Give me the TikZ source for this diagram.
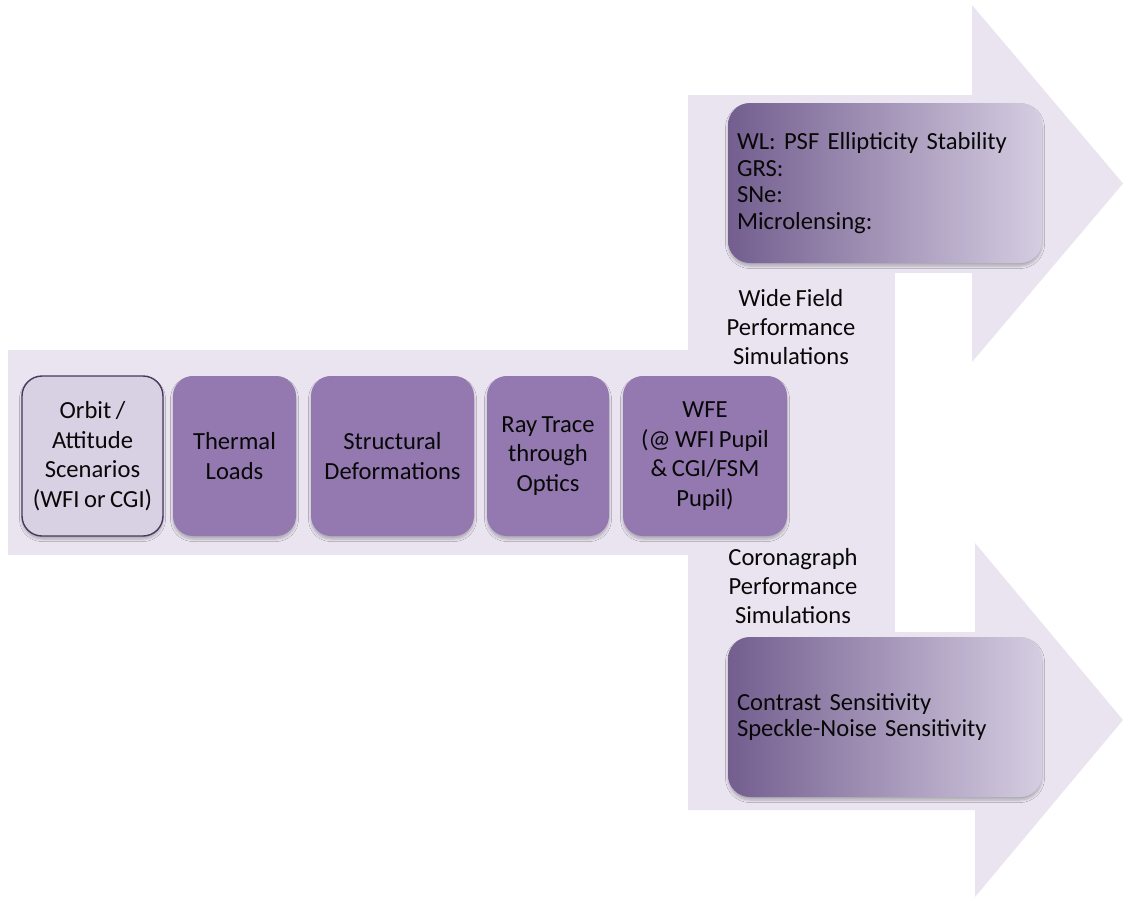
\documentclass[tikz,border=0pt]{standalone}
\usepackage{fontspec}
\setmainfont[WordSpace=0.8]{Carlito}
\usetikzlibrary{shadows.blur}

\definecolor{lav}{RGB}{233,228,240}
\definecolor{stagefill}{RGB}{147,121,175}
\definecolor{orbitfill}{RGB}{216,208,227}
\definecolor{orbitline}{RGB}{72,56,92}
\definecolor{gradL}{RGB}{115,94,143}
\definecolor{gradR}{RGB}{213,205,225}
\definecolor{ink}{RGB}{8,8,8}

\begin{document}
\begin{tikzpicture}[x=1pt,y=-1pt,
  softshadow/.style={blur shadow={shadow xshift=0pt, shadow yshift=-3pt,
      shadow opacity=25, shadow blur steps=6, shadow blur radius=2.5pt}},
  stage/.style={rounded corners=20pt, fill=stagefill, minimum width=#1,
      minimum height=160pt, inner sep=2pt, align=center, text=ink,
      font=\fontsize{24.6}{29.5}\selectfont, softshadow},
  result/.style={rounded corners=22pt, left color=gradL, right color=gradR,
      minimum height=160pt, text width=296pt, inner xsep=9pt, align=left,
      text=ink, font=\fontsize{24.6}{26.7}\selectfont, softshadow},
  caption/.style={align=center, text=ink, font=\fontsize{24.6}{29.3}\selectfont},
]
\useasboundingbox (0,0) rectangle (1123,899);
\fill[white] (0,0) rectangle (1123,899);

% bent arrow backdrop: main band, vertical spine and the two arrow heads
\fill[lav] (8,350) rectangle (895,555);
\fill[lav] (688,95) rectangle (895,810);
\fill[lav] (688,95) -- (972,95) -- (972,5) -- (1123,183.5) -- (972,362)
  -- (972,273) -- (688,273) -- cycle;
\fill[lav] (688,632) -- (975,632) -- (975,543) -- (1123,720) -- (975,897)
  -- (975,810) -- (688,810) -- cycle;

% processing chain
\node[stage=141pt, fill=orbitfill, draw=orbitline, line width=1.4pt] (orbit)
  at (92.5,456) {Orbit /\\Attitude\\Scenarios\\(WFI or CGI)};
\node[stage=123pt] (thermal) at (234.5,456) {Thermal\\Loads};
\node[stage=163pt] (struct) at (392.5,456) {Structural\\Deformations};
\node[stage=122pt] (ray) at (548,456) {Ray Trace\\through\\Optics};
\node[stage=164pt] (wfe) at (705,456) {WFE\\(@ WFI Pupil\\\& CGI/FSM\\Pupil)};

% performance outputs
\node[result] (wide) at (885,183)
  {WL: PSF Ellipticity Stability\\GRS:\\SNe:\\Microlensing:};
\node[result] (coro) at (885,717)
  {Contrast Sensitivity\\Speckle-Noise Sensitivity};

\node[caption] (widelbl) at (791,327) {Wide Field\\Performance\\Simulations};
\node[caption] (corolbl) at (793,586) {Coronagraph\\Performance\\Simulations};
\end{tikzpicture}
\end{document}
